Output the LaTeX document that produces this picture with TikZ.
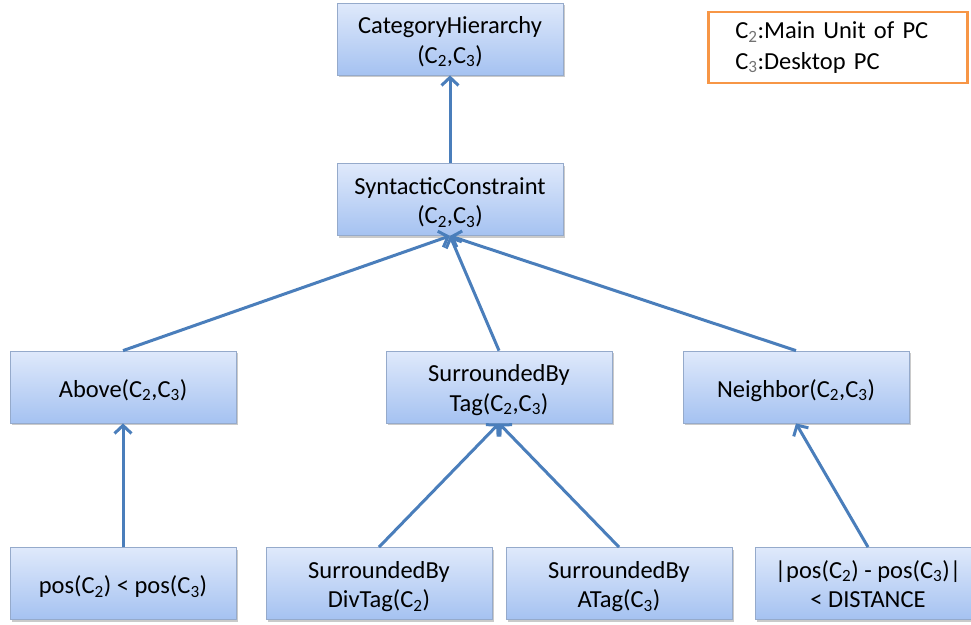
\documentclass[tikz,border=0pt]{standalone}
\usepackage{fontspec}
\setmainfont{Carlito}
\usetikzlibrary{arrows.meta,shadows}
\definecolor{connblue}{HTML}{4A7EBB}
\definecolor{boxtop}{HTML}{DFE9FB}
\definecolor{boxbot}{HTML}{A5C2F1}
\definecolor{boxline}{HTML}{95AACB}
\definecolor{legline}{HTML}{F79646}
\newcommand{\sub}[1]{\textsubscript{#1}}
\newcommand{\gsub}[1]{\textsubscript{\color{black!55}#1}}
\newcommand{\twol}[2]{\raisebox{0pt}[0pt][11pt]{\begin{tabular}[t]{@{}c@{}}#1\\#2\end{tabular}}}
\newcommand{\onel}[1]{\raisebox{0pt}[20pt][0pt]{#1}}
\begin{document}
\begin{tikzpicture}[x=1pt,y=-1pt,
 box/.style={rectangle, draw=boxline, line width=0.8pt, top color=boxtop, bottom color=boxbot,
   minimum width=226pt, minimum height=72pt, inner sep=0pt,
   font=\fontsize{24.5}{29.5}\selectfont,
   drop shadow={shadow xshift=1.5pt, shadow yshift=-2pt, opacity=0.35, fill=black!60}},
 link/.style={draw=connblue, line width=3pt, -{Straight Barb[length=8pt,width=17pt,line width=3pt]}},
 legend/.style={rectangle, draw=legline, line width=2.5pt, fill=white, minimum height=71pt,
   inner xsep=27pt, text width=205pt, align=left, font=\fontsize{24.5}{30.5}\selectfont}]
\useasboundingbox (0,0) rectangle (971,624);
\clip (0,0) rectangle (971,624);

\node[box] (ch) at (450,39) {\twol{CategoryHierarchy}{(C\sub{2},C\sub{3})}};
\node[box] (sc) at (450,199.5) {\twol{SyntacticConstraint}{(C\sub{2},C\sub{3})}};
\node[box] (ab) at (123,387) {\onel{Above(C\sub{2},C\sub{3})}};
\node[box] (st) at (499,387) {\twol{SurroundedBy}{Tag(C\sub{2},C\sub{3})}};
\node[box] (nb) at (796,387) {\onel{Neighbor(C\sub{2},C\sub{3})}};
\node[box] (ps) at (123,583.5) {\onel{pos(C\sub{2}) < pos(C\sub{3})}};
\node[box] (dt) at (379,583.5) {\twol{SurroundedBy}{DivTag(C\sub{2})}};
\node[box] (at) at (619,583.5) {\twol{SurroundedBy}{ATag(C\sub{3})}};
\node[box] (ds) at (868,583.5) {\twol{|pos(C\sub{2}) - pos(C\sub{3})|}{< DISTANCE}};

\node[legend, anchor=west] (lg) at (707,47.5) {C\gsub{2}:Main Unit of PC\\C\gsub{3}:Desktop PC};

\draw[link] (sc.north) -- (ch.south);
\draw[link] (ab.north) -- (sc.south);
\draw[link] (st.north) -- (sc.south);
\draw[link] (nb.north) -- (sc.south);
\draw[link] (ps.north) -- (ab.south);
\draw[link] (dt.north) -- (st.south);
\draw[link] (at.north) -- (st.south);
\draw[link] (ds.north) -- (nb.south);
\end{tikzpicture}
\end{document}
